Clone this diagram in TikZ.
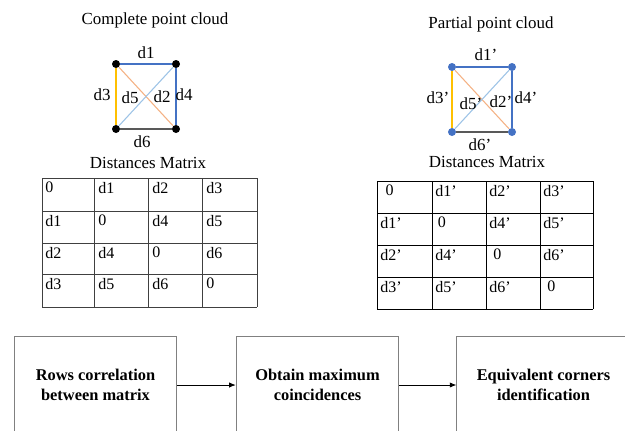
\documentclass[tikz,border=0pt]{standalone}
\usepackage{fontspec}
\setmainfont{Liberation Serif}
\usetikzlibrary{arrows.meta}
\definecolor{edgeblue}{HTML}{4472C4}
\definecolor{edgeyellow}{HTML}{FFC000}
\definecolor{edgegray}{HTML}{595959}
\definecolor{diagorange}{HTML}{F4B183}
\definecolor{diaglight}{HTML}{9DC3E6}

\begin{document}
\begin{tikzpicture}[x=0.75pt,y=-0.75pt,
% common options for the corner dots:
corner/.style = {circle, fill=black, inner sep=0, minimum size=6pt},
% common options for labels and titles:
lbl/.style = {inner sep=0, font=\fontsize{12.7}{15}\selectfont},
% common options for matrix entries:
cell/.style = {anchor=north west, inner sep=0, font=\fontsize{12}{14}\selectfont},
% common options for the process boxes:
stage/.style = {draw=black!50, line width=0.6pt, align=center,
            minimum width=122pt, minimum height=73.5pt, inner sep=0,
            font=\fontsize{12.3}{15}\selectfont\bfseries}]
\useasboundingbox (0,0) rectangle (625,430);
% complete point cloud
\node[lbl] (T1) at (155,20) {Complete point cloud};
\node[corner] (C1) at (116,64) {};
\node[corner] (C2) at (176,64) {};
\node[corner] (C3) at (116,129) {};
\node[corner] (C4) at (176,129) {};
\draw[edgeblue, line width=0.9pt] (C1) -- (C2) -- (C4);
\draw[edgeyellow, line width=0.9pt] (C1) -- (C3);
\draw[edgegray, line width=0.9pt] (C3) -- (C4);
\draw[diagorange, line width=0.8pt] (C1) -- (C4);
\draw[diaglight, line width=0.8pt] (C3) -- (C2);
\node[lbl] (D1) at (146,53) {d1};
\node[lbl] (D3) at (102,95) {d3};
\node[lbl] (D5) at (130,98) {d5};
\node[lbl] (D2) at (162,97) {d2};
\node[lbl] (D4) at (184,95) {d4};
\node[lbl] (D6) at (142,142) {d6};
% partial point cloud
\node[lbl] (T2) at (491,24) {Partial point cloud};
\node[corner, fill=edgeblue] (P1) at (452,67) {};
\node[corner, fill=edgeblue] (P2) at (512,67) {};
\node[corner, fill=edgeblue] (P3) at (452,132) {};
\node[corner, fill=edgeblue] (P4) at (512,132) {};
\draw[edgeblue, line width=0.9pt] (P1) -- (P2) -- (P4);
\draw[edgeyellow, line width=0.9pt] (P1) -- (P3);
\draw[edgegray, line width=0.9pt] (P3) -- (P4);
\draw[diagorange, line width=0.8pt] (P1) -- (P4);
\draw[diaglight, line width=0.8pt] (P3) -- (P2);
\node[lbl] (E1) at (486,55) {d1’};
\node[lbl] (E3) at (438,98) {d3’};
\node[lbl] (E5) at (471,104) {d5’};
\node[lbl] (E2) at (501,102) {d2’};
\node[lbl] (E4) at (526,98) {d4’};
\node[lbl] (E6) at (480,145) {d6’};
% distances matrices
\node[lbl] (M1) at (148,163) {Distances Matrix};
\node[lbl] (M2) at (487,162) {Distances Matrix};
\foreach \x in {42,94,148,202,257}
  \draw[black!75, line width=0.7pt] (\x,178) -- (\x,307);
\foreach \y in {178,211,243,274,307}
  \draw[black!75, line width=0.7pt] (42,\y) -- (257,\y);
\foreach \x in {377,432,486,540,593}
  \draw[line width=0.7pt] (\x,181) -- (\x,309);
\foreach \y in {181,213,245,277,309}
  \draw[line width=0.7pt] (377,\y) -- (593,\y);
\foreach \r/\y/\a/\b/\c/\d in {1/178/0/d1/d2/d3, 2/211/d1/0/d4/d5,
                               3/243/d2/d4/0/d6, 4/274/d3/d5/d6/0}{
  \node[cell] (L\r1) at (45,\y+4) {\a};
  \node[cell] (L\r2) at (98,\y+4) {\b};
  \node[cell] (L\r3) at (152,\y+4) {\c};
  \node[cell] (L\r4) at (206,\y+4) {\d};
}
\foreach \r/\y/\a/\b/\c/\d in {1/181/\hspace{4pt}0/d1’/d2’/d3’, 2/213/d1’/\hspace{2pt}0/d4’/d5’,
                               3/245/d2’/d4’/\hspace{3pt}0/d6’, 4/277/d3’/d5’/d6’/\hspace{3pt}0}{
  \node[cell] (R\r1) at (380,\y+4) {\a};
  \node[cell] (R\r2) at (435,\y+4) {\b};
  \node[cell] (R\r3) at (489,\y+4) {\c};
  \node[cell] (R\r4) at (543,\y+4) {\d};
}
% process chain
\node[stage] (S1) at (95.5,385) {Rows correlation\\between matrix};
\node[stage] (S2) at (317.5,385) {Obtain maximum\\coincidences};
\node[stage, minimum width=130pt] (S3) at (543.5,385) {Equivalent corners\\identification};
\draw[-{Latex[length=5pt,width=4pt]}, line width=0.6pt] (S1.east) to (S2.west);
\draw[-{Latex[length=5pt,width=4pt]}, line width=0.6pt] (S2.east) to (S3.west);
\end{tikzpicture}
\end{document}
